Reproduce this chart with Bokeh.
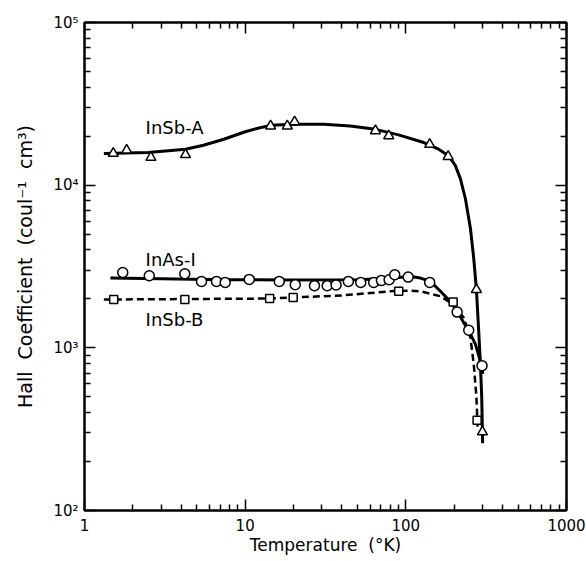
from bokeh.plotting import figure
from bokeh.models import LogAxis, FixedTicker, Range1d
from bokeh.core.properties import value
from bokeh.embed import file_html
from bokeh.resources import INLINE

FONT = "DejaVu Sans"
NB = "\u00a0"

# ---- data ----
# InSb-A (triangles)
insb_a_T = [1.51, 1.83, 2.59, 4.25, 14.4, 18.3, 20.3, 64.7, 78.3, 140.8, 183.4, 275.0, 299.7]
insb_a_R = [15700, 16400, 14800, 15400, 23100, 23100, 24500, 21600, 20100, 17800, 15000, 2280, 304]
insb_a_curve_T = [1.32, 2.5, 4.25, 5.5, 7.36, 10, 12, 14.4, 20, 30.8, 45, 64.7, 90, 129.3, 160,
                  184.6, 203.5, 218.7, 234.9, 252.4, 264.6, 275, 284.1, 291.2, 296.7, 299.7, 300.5]
insb_a_curve_R = [15670, 15900, 16640, 17600, 19160, 21300, 22400, 23320, 23700, 23650, 23100,
                  22040, 20380, 18290, 16640, 15170, 13190, 10930, 8250, 5415, 3553, 2280, 1270,
                  795, 498, 304, 259]

# InAs-I (circles)
inas_T = [1.73, 2.53, 4.21, 5.35, 6.63, 7.51, 10.6, 16.3, 20.5, 27.0, 32.4, 36.8, 43.9, 52.4,
          63.1, 70.5, 78.7, 85.3, 103.4, 140.8, 208.6, 246.3, 298.0]
inas_R = [2906, 2775, 2854, 2561, 2561, 2525, 2634, 2561, 2446, 2412, 2412, 2432, 2561, 2525,
          2525, 2598, 2623, 2814, 2721, 2525, 1658, 1282, 777]
inas_curve_T = [1.45, 3, 7.36, 20, 49.8, 80, 106.8, 123.3, 142.2, 164.2, 186, 208.6, 230, 252.4,
                271, 284, 298.4, 300.9]
inas_curve_R = [2684, 2660, 2623, 2615, 2623, 2680, 2748, 2684, 2561, 2226, 1960, 1681, 1420,
                1212, 1054, 900, 760, 691]

# InSb-B (squares, dashed)
insb_b_T = [1.52, 4.21, 14.2, 19.9, 90.3, 197.0, 277.7]
insb_b_R = [1981, 1981, 2009, 2037, 2226, 1916, 359]
insb_b_curve_T = [1.32, 13.7, 40, 80.2, 106.8, 123.3, 164.2, 198.6, 229.3, 252.4, 264.6, 275,
                  280.2]
insb_b_curve_R = [1981, 2009, 2100, 2226, 2248, 2226, 2075, 1847, 1530, 1156, 795, 498, 312]

# curve labels
label_text = ["InSb-A", "InAs-I", "InSb-B"]
label_T = [2.4, 2.4, 2.4]
label_R = [22500, 3489, 1502]

x_ticks = [1, 10, 100, 1000]
x_tick_labels = {1: "1", 10: "10", 100: "100", 1000: "1000"}
y_ticks = [100, 1000, 10000, 100000]
y_tick_labels = {100: "10²", 1000: "10³", 10000: "10⁴", 100000: "10⁵"}

x_minor = [m * 10 ** e for e in range(0, 3) for m in range(2, 10)]
y_minor = [m * 10 ** e for e in range(2, 5) for m in range(2, 10)]

p = figure(width=586, height=561, x_axis_type="log", y_axis_type="log",
           x_range=Range1d(1, 1000), y_range=Range1d(100, 100000),
           output_backend="svg", toolbar_location=None,
           min_border_left=84, min_border_right=20, min_border_top=22, min_border_bottom=51,
           x_axis_label="Temperature" + NB + NB + "(°K)",
           y_axis_label="Hall" + NB + " Coefficient" + NB + " (coul⁻¹" + NB + " cm³)")
p.grid.visible = False
p.outline_line_color = "black"
p.outline_line_width = 2
p.background_fill_color = "white"
p.border_fill_color = "white"


def style_axis(ax, ticks, minor, labels, show_labels):
    ax.ticker = FixedTicker(ticks=ticks, minor_ticks=minor)
    ax.axis_line_color = "black"
    ax.axis_line_width = 2
    ax.major_tick_in = 11
    ax.major_tick_out = 0
    ax.minor_tick_in = 6
    ax.minor_tick_out = 0
    ax.major_tick_line_width = 1.5
    ax.minor_tick_line_width = 1.5
    ax.major_tick_line_color = "black"
    ax.minor_tick_line_color = "black"
    ax.major_label_text_font = FONT
    ax.axis_label_text_font = FONT
    ax.axis_label_text_font_style = "normal"
    ax.axis_label_text_color = "black"
    ax.axis_label_text_font_size = "17px"
    if show_labels:
        ax.major_label_overrides = labels
        ax.major_label_text_font_size = "15px"
        ax.major_label_text_color = "black"
    else:
        ax.major_label_text_font_size = "1px"
        ax.major_label_text_alpha = 0
        ax.major_label_standoff = 0


xa = p.xaxis[0]
ya = p.yaxis[0]
style_axis(xa, x_ticks, x_minor, x_tick_labels, True)
style_axis(ya, y_ticks, y_minor, y_tick_labels, True)
xa.major_label_standoff = 8
xa.axis_label_standoff = 1
ya.major_label_standoff = 6
ya.axis_label_standoff = 14
ya.axis_label_text_font_size = "19px"

top = LogAxis()
style_axis(top, x_ticks, x_minor, {}, False)
right = LogAxis()
style_axis(right, y_ticks, y_minor, {}, False)
p.add_layout(top, "above")
p.add_layout(right, "right")

# curves
p.line(insb_a_curve_T, insb_a_curve_R, line_color="black", line_width=3)
p.line(inas_curve_T, inas_curve_R, line_color="black", line_width=3)
p.line(insb_b_curve_T, insb_b_curve_R, line_color="black", line_width=2.5, line_dash="7 4")

# markers
p.scatter(insb_a_T, insb_a_R, marker="triangle", size=10, fill_color="white",
          line_color="black", line_width=1.5)
p.scatter(inas_T, inas_R, marker="circle", size=10, fill_color="white",
          line_color="black", line_width=1.5)
p.scatter(insb_b_T, insb_b_R, marker="square", size=8, fill_color="white",
          line_color="black", line_width=1.5)

p.text(label_T, label_R, text=label_text, text_font=value(FONT), text_font_size="18px",
       text_align="left", text_baseline="middle", text_color="black")

open("out.html", "w").write(file_html(p, INLINE))
